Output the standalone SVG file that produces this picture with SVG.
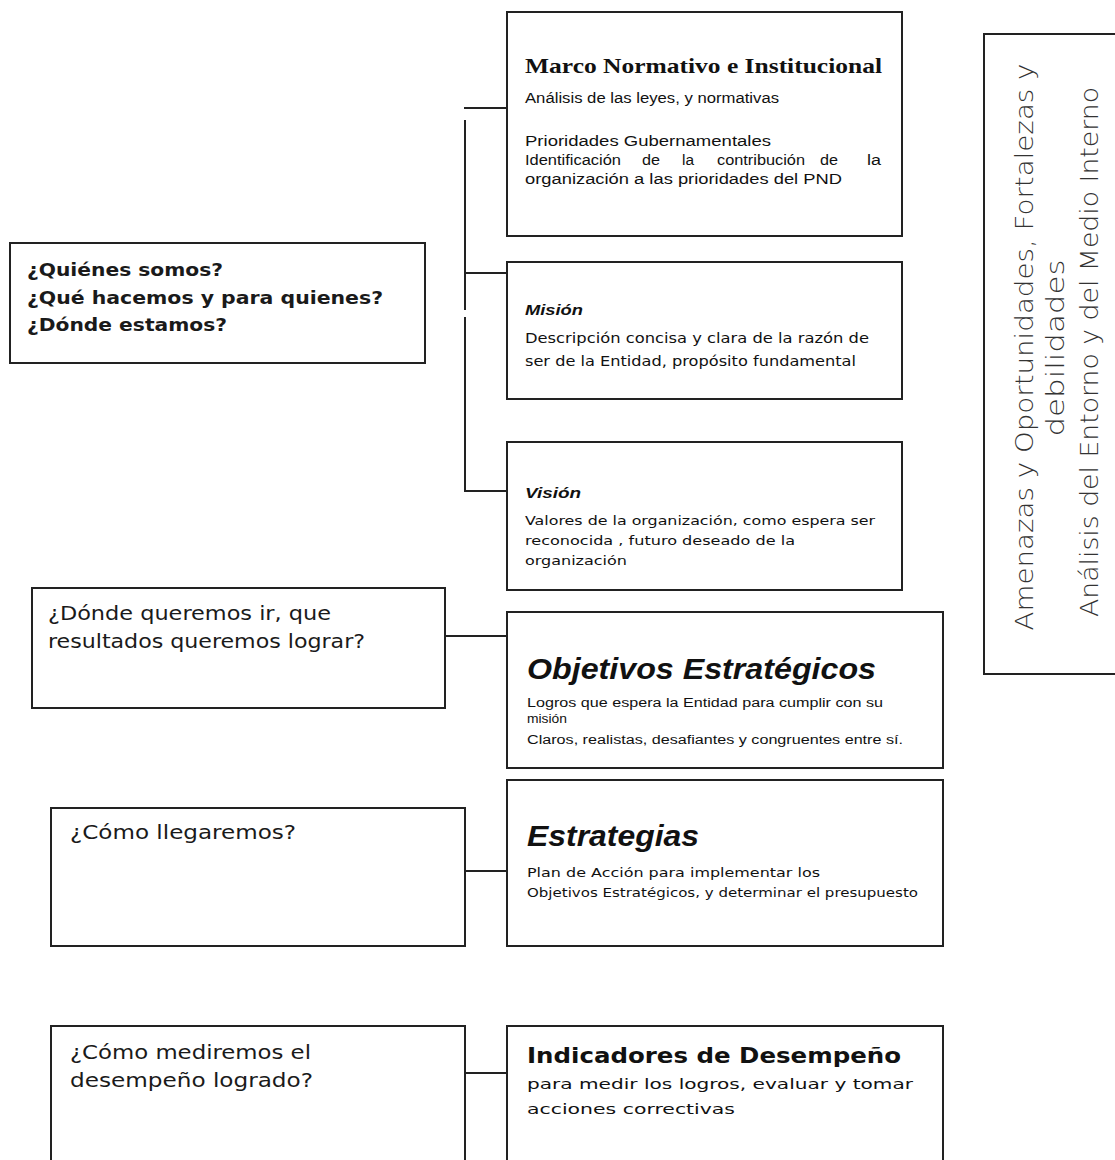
<svg xmlns="http://www.w3.org/2000/svg" width="1115" height="1160" viewBox="0 0 1115 1160">
<style>
.box{fill:#fff;stroke:#222;stroke-width:2}
.con{fill:none;stroke:#222;stroke-width:2}
.q{font-family:"DejaVu Sans",sans-serif;font-weight:bold;font-size:18px;fill:#1a1a1a}
.qn{font-family:"DejaVu Sans Condensed","DejaVu Sans",sans-serif;font-size:19px;fill:#1a1a1a}
.ar{font-family:"Liberation Sans",Arial,sans-serif;fill:#111}
.cg{font-family:"DejaVu Sans",sans-serif;fill:#111}
.side{font-family:"DejaVu Sans",sans-serif;font-weight:200;font-size:24px;fill:#333}
</style>
<g id="connectors">
<path class="con" d="M464 108 H507"/>
<path class="con" d="M465 120 V310"/>
<path class="con" d="M465 317 V491 H507"/>
<path class="con" d="M465 273 H507"/>
<path class="con" d="M446 636 H507"/>
<path class="con" d="M466 871 H507"/>
<path class="con" d="M466 1073 H507"/>
</g>
<g id="marco">
<rect class="box" x="507" y="12" width="395" height="224"/>
<text x="525" y="73" font-family="'Liberation Serif',serif" font-weight="bold" font-size="22" fill="#111" textLength="357" lengthAdjust="spacingAndGlyphs">Marco Normativo e Institucional</text>
<text class="ar" x="525" y="103" font-size="14" textLength="254" lengthAdjust="spacingAndGlyphs">Análisis de las leyes, y normativas</text>
<text class="ar" x="525" y="146" font-size="14" textLength="246" lengthAdjust="spacingAndGlyphs">Prioridades Gubernamentales</text>
<text class="ar" x="525" y="165" font-size="14" textLength="96" lengthAdjust="spacingAndGlyphs">Identificación</text>
<text class="ar" x="642" y="165" font-size="14" textLength="18" lengthAdjust="spacingAndGlyphs">de</text>
<text class="ar" x="682" y="165" font-size="14" textLength="12" lengthAdjust="spacingAndGlyphs">la</text>
<text class="ar" x="717" y="165" font-size="14" textLength="88" lengthAdjust="spacingAndGlyphs">contribución</text>
<text class="ar" x="820" y="165" font-size="14" textLength="18" lengthAdjust="spacingAndGlyphs">de</text>
<text class="ar" x="867" y="165" font-size="14" textLength="14" lengthAdjust="spacingAndGlyphs">la</text>
<text class="ar" x="525" y="184" font-size="14" textLength="317" lengthAdjust="spacingAndGlyphs">organización a las prioridades del PND</text>
</g>
<g id="quienes">
<rect class="box" x="10" y="243" width="415" height="120"/>
<text class="q" x="27" y="276" textLength="196" lengthAdjust="spacingAndGlyphs">¿Quiénes somos?</text>
<text class="q" x="27" y="304" textLength="356" lengthAdjust="spacingAndGlyphs">¿Qué hacemos y para quienes?</text>
<text class="q" x="27" y="331" textLength="200" lengthAdjust="spacingAndGlyphs">¿Dónde estamos?</text>
</g>
<g id="mision">
<rect class="box" x="507" y="262" width="395" height="137"/>
<text x="525" y="315" font-family="'Liberation Sans',sans-serif" font-weight="bold" font-style="italic" font-size="15" fill="#111" textLength="58" lengthAdjust="spacingAndGlyphs">Misión</text>
<text class="cg" x="525" y="343" font-size="14" textLength="344" lengthAdjust="spacingAndGlyphs">Descripción concisa y clara de la razón de</text>
<text class="cg" x="525" y="366" font-size="14" textLength="331" lengthAdjust="spacingAndGlyphs">ser de la Entidad, propósito fundamental</text>
</g>
<g id="vision">
<rect class="box" x="507" y="442" width="395" height="148"/>
<text x="525" y="498" font-family="'Liberation Sans',sans-serif" font-weight="bold" font-style="italic" font-size="15" fill="#111" textLength="56" lengthAdjust="spacingAndGlyphs">Visión</text>
<text class="cg" x="525" y="525" font-size="12" textLength="350" lengthAdjust="spacingAndGlyphs">Valores de la organización, como espera ser</text>
<text class="cg" x="525" y="545" font-size="12" textLength="270" lengthAdjust="spacingAndGlyphs">reconocida , futuro deseado de la</text>
<text class="cg" x="525" y="565" font-size="12" textLength="102" lengthAdjust="spacingAndGlyphs">organización</text>
</g>
<g id="entorno">
<rect class="box" x="984" y="34" width="140" height="640"/>
<text class="side" transform="translate(1033 347) rotate(-90)" text-anchor="middle" textLength="567" lengthAdjust="spacingAndGlyphs">Amenazas y Oportunidades, Fortalezas y</text>
<text class="side" transform="translate(1064 348) rotate(-90)" text-anchor="middle" textLength="177" lengthAdjust="spacingAndGlyphs">debilidades</text>
<text class="side" transform="translate(1098 352) rotate(-90)" text-anchor="middle" textLength="530" lengthAdjust="spacingAndGlyphs">Análisis del Entorno y del Medio Interno</text>
</g>
<g id="donde">
<rect class="box" x="32" y="588" width="413" height="120"/>
<text class="qn" x="48" y="620" textLength="283" lengthAdjust="spacingAndGlyphs">¿Dónde queremos ir, que</text>
<text class="qn" x="48" y="648" textLength="317" lengthAdjust="spacingAndGlyphs">resultados queremos lograr?</text>
</g>
<g id="objetivos">
<rect class="box" x="507" y="612" width="436" height="156"/>
<text class="ar" x="527" y="679" font-size="29" font-style="italic" font-weight="bold" textLength="349" lengthAdjust="spacingAndGlyphs">Objetivos Estratégicos</text>
<text class="ar" x="527" y="707" font-size="12.5" textLength="356" lengthAdjust="spacingAndGlyphs">Logros que espera la Entidad para cumplir con su</text>
<text class="ar" x="527" y="723" font-size="12.5" textLength="40" lengthAdjust="spacingAndGlyphs">misión</text>
<text class="ar" x="527" y="744" font-size="12.5" textLength="376" lengthAdjust="spacingAndGlyphs">Claros, realistas, desafiantes y congruentes entre sí.</text>
</g>
<g id="llegaremos">
<rect class="box" x="51" y="808" width="414" height="138"/>
<text class="qn" x="70" y="839" textLength="226" lengthAdjust="spacingAndGlyphs">¿Cómo llegaremos?</text>
</g>
<g id="estrategias">
<rect class="box" x="507" y="780" width="436" height="166"/>
<text class="ar" x="527" y="846" font-size="29" font-style="italic" font-weight="bold" textLength="172" lengthAdjust="spacingAndGlyphs">Estrategias</text>
<text class="cg" x="527" y="877" font-size="11.5" textLength="293" lengthAdjust="spacingAndGlyphs">Plan de Acción para implementar los</text>
<text class="cg" x="527" y="897" font-size="11.5" textLength="391" lengthAdjust="spacingAndGlyphs">Objetivos Estratégicos, y determinar el presupuesto</text>
</g>
<g id="mediremos">
<rect class="box" x="51" y="1026" width="414" height="150"/>
<text class="qn" x="70" y="1059" textLength="241" lengthAdjust="spacingAndGlyphs">¿Cómo mediremos el</text>
<text class="qn" x="70" y="1087" textLength="243" lengthAdjust="spacingAndGlyphs">desempeño logrado?</text>
</g>
<g id="indicadores">
<rect class="box" x="507" y="1026" width="436" height="150"/>
<text class="cg" x="527" y="1063" font-size="22" font-weight="bold" textLength="374" lengthAdjust="spacingAndGlyphs">Indicadores de Desempeño</text>
<text class="cg" x="527" y="1089" font-size="14" textLength="386" lengthAdjust="spacingAndGlyphs">para medir los logros, evaluar  y tomar</text>
<text class="cg" x="527" y="1114" font-size="14" textLength="208" lengthAdjust="spacingAndGlyphs">acciones correctivas</text>
</g>
</svg>
